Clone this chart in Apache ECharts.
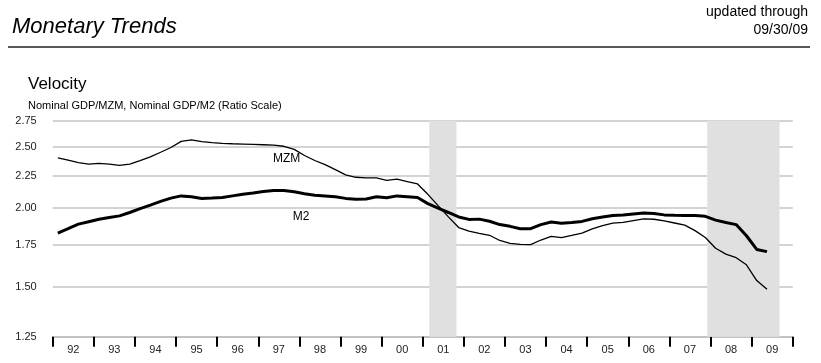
<!DOCTYPE html>
<html>
<head>
<meta charset="utf-8">
<script src="https://cdn.jsdelivr.net/npm/echarts@6/dist/echarts.min.js"></script>
<style>
html,body{margin:0;padding:0;background:#fff;}
#c{width:821px;height:363px;}
</style>
</head>
<body>
<div id="c"></div>
<script>
// Year categories (x-axis labels)
const years = ['92','93','94','95','96','97','98','99','00','01','02','03','04','05','06','07','08','09'];
// First quarter of data: 1992 Q1, quarterly through 2009 Q2
const startYear = 1992;
// Y tick labels (ratio scale)
const yTicks = [1.25, 1.50, 1.75, 2.00, 2.25, 2.50, 2.75];
// Velocity of MZM (Nominal GDP / MZM), quarterly
const mzm = [2.402,2.382,2.360,2.347,2.353,2.347,2.336,2.347,2.378,2.410,2.451,2.494,
  2.550,2.564,2.547,2.539,2.532,2.528,2.525,2.522,2.519,2.515,2.505,2.477,
  2.422,2.378,2.343,2.300,2.257,2.237,2.232,2.232,2.212,2.221,2.202,2.183,
  2.102,2.017,1.936,1.862,1.837,1.822,1.810,1.776,1.757,1.751,1.749,1.779,
  1.803,1.795,1.809,1.825,1.853,1.875,1.892,1.897,1.910,1.922,1.919,1.908,
  1.893,1.878,1.841,1.795,1.726,1.690,1.668,1.625,1.534,1.486];
// Velocity of M2 (Nominal GDP / M2), quarterly
const m2 = [1.825,1.854,1.885,1.902,1.919,1.931,1.943,1.967,1.995,2.021,2.048,2.073,
  2.090,2.083,2.070,2.073,2.077,2.090,2.102,2.112,2.123,2.131,2.131,2.121,
  2.107,2.095,2.090,2.083,2.071,2.065,2.067,2.083,2.076,2.090,2.084,2.078,
  2.032,1.998,1.967,1.935,1.918,1.920,1.905,1.882,1.870,1.854,1.854,1.882,
  1.900,1.892,1.897,1.904,1.923,1.935,1.946,1.949,1.957,1.964,1.960,1.950,
  1.947,1.946,1.945,1.940,1.913,1.896,1.882,1.807,1.719,1.705];
// Recession periods (decimal years)
const recessions = [[2001.16, 2001.82], [2007.92, 2009.68]];
// Series label anchors
const seriesLabels = [
  {name:'MZM', x:1997.69, v:2.397},
  {name:'M2',  x:1998.04, v:1.939}
];

const qx = i => startYear + i * 0.25 + 0.125;
const toPts = arr => arr.map((v, i) => [qx(i), Math.log(v)]);

const chart = echarts.init(document.getElementById('c'), null, {renderer:'canvas'});
const FONT = '"Liberation Sans", Arial, sans-serif';

chart.setOption({
  animation: false,
  backgroundColor: '#fff',
  title: [
    {text:'Monetary Trends', left:7, top:11, textStyle:{fontFamily:FONT, fontSize:22, fontStyle:'italic', fontWeight:'normal', color:'#000'}},
    {text:'updated through', right:8, top:0,
      textStyle:{fontFamily:FONT, fontSize:14, fontWeight:'normal', color:'#000'}},
    {text:'09/30/09', right:8, top:18,
      textStyle:{fontFamily:FONT, fontSize:14, fontWeight:'normal', color:'#000'}},
    {text:'Velocity', left:23, top:71, textStyle:{fontFamily:FONT, fontSize:17, fontWeight:'normal', color:'#000'}},
    {text:'Nominal GDP/MZM, Nominal GDP/M2 (Ratio Scale)', left:23, top:95, textStyle:{fontFamily:FONT, fontSize:11, fontWeight:'normal', color:'#000'}}
  ],
  graphic: [
    {type:'line', shape:{x1:8, y1:47, x2:810, y2:47}, style:{stroke:'#222', lineWidth:1.5}}
  ],
  grid: {left:52.7, right:28.3, top:120.7, bottom:26.3, containLabel:false},
  xAxis: [
    {type:'category', data: years, boundaryGap:true, position:'bottom',
      axisLine:{show:true, lineStyle:{color:'#bdbdbd', width:1.5}},
      axisTick:{show:true, alignWithLabel:false, length:10, lineStyle:{color:'#000', width:2}},
      axisLabel:{fontFamily:FONT, fontSize:11, color:'#222', margin:8},
      splitLine:{show:false}},
    {type:'value', min:1992, max:2010, show:false}
  ],
  yAxis: {
    type:'value', min:Math.log(1.25), max:Math.log(2.75),
    axisLine:{show:false},
    axisTick:{show:false, customValues: yTicks.map(v => Math.log(v))},
    axisLabel:{customValues: yTicks.map(v => Math.log(v)), fontFamily:FONT, fontSize:11, color:'#222', margin:16,
      formatter: v => Math.exp(v).toFixed(2)},
    splitLine:{show:true, lineStyle:{color:'#c4c4c4', width:1.5}}
  },
  series: [
    {type:'line', name:'MZM', xAxisIndex:1, data: toPts(mzm), showSymbol:false, symbol:'none',
      lineStyle:{color:'#000', width:1.3}, z:3,
      markArea:{silent:true, itemStyle:{color:'#e0e0e0'},
        data: recessions.map(r => [{xAxis:r[0]}, {xAxis:r[1]}])},
      markPoint:{symbol:'circle', symbolSize:0, silent:true,
        label:{show:true, position:'inside', fontFamily:FONT, fontSize:12, color:'#000', formatter: p => p.name},
        data: seriesLabels.map(s => ({name:s.name, coord:[s.x, Math.log(s.v)]}))}
    },
    {type:'line', name:'M2', xAxisIndex:1, data: toPts(m2), showSymbol:false, symbol:'none',
      lineStyle:{color:'#000', width:3}, z:4}
  ]
});
</script>
</body>
</html>
